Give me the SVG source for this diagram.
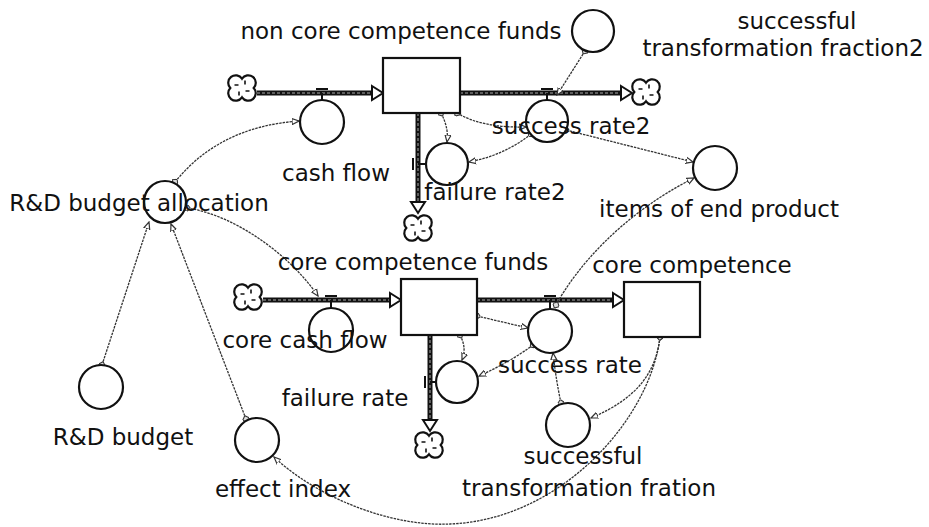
<svg xmlns="http://www.w3.org/2000/svg" xmlns:xlink="http://www.w3.org/1999/xlink" width="929" height="527" viewBox="0 0 929 527">
<style>
  .lbl { font-family: "DejaVu Sans", "Liberation Sans", sans-serif; font-size: 23px; fill: #111; text-anchor: middle; }
  .aux { fill: #fff; stroke: #111; stroke-width: 2.2; }
  .stock { fill: #fff; stroke: #111; stroke-width: 2.2; }
  .pipe { stroke: #111; stroke-width: 5; fill: none; }
  .pipein { stroke: #aaa; stroke-width: 1; fill: none; stroke-dasharray: 3 2; }
  .head { fill: #fff; stroke: #111; stroke-width: 2; stroke-linejoin: miter; }
  .valve { stroke: #111; stroke-width: 2; fill: none; }
  .conn { fill: none; stroke: #333; stroke-width: 1.3; stroke-dasharray: 2.5 1; marker-start: url(#orig); marker-end: url(#arr); }
  .cloud { fill: #fff; stroke: #111; stroke-width: 2.2; }
</style>
<defs>
  <marker id="arr" viewBox="0 0 8 8" refX="7" refY="4" markerWidth="8" markerHeight="8" orient="auto" markerUnits="userSpaceOnUse">
    <path d="M0,1 L7,4 L0,7 Z" fill="#fff" stroke="#333" stroke-width="1.2"/>
  </marker>
  <marker id="orig" viewBox="0 0 8 8" refX="4" refY="4" markerWidth="7" markerHeight="7" orient="auto" markerUnits="userSpaceOnUse">
    <path d="M0,4 L4,0 L8,4 L4,8 Z" fill="#ddd" stroke="#333" stroke-width="1.2"/>
  </marker>
  <g id="cloudShape">
    <path class="cloud" d="M0,-9.3 A7.5 7.5 0 1 1 11.7,0 A7.5 7.5 0 1 1 0,9.3 A7.5 7.5 0 1 1 -11.7,0 A7.5 7.5 0 1 1 0,-9.3 Z"/>
    <path d="M-7.5,-3 l4,0 M3,-7.5 l0,4 M7.5,3 l-4,0 M-3,7.5 l0,-4" stroke="#111" stroke-width="1.6" fill="none"/>
  </g>
</defs>
<rect width="929" height="527" fill="#fff"/>

<g id="connectors">
  <g id="flow-cash-flow">
    <line class="pipe" x1="257" y1="93" x2="373" y2="93"/>
    <line class="pipein" x1="257" y1="93" x2="373" y2="93"/>
    <polygon class="head" points="372,86 383,93 372,100"/>
  </g>
  <g id="flow-success-rate2">
    <line class="pipe" x1="460" y1="93" x2="622" y2="93"/>
    <line class="pipein" x1="460" y1="93" x2="622" y2="93"/>
    <polygon class="head" points="621,86 632,93 621,100"/>
  </g>
  <g id="flow-failure-rate2">
    <line class="pipe" x1="418" y1="113" x2="418" y2="203"/>
    <line class="pipein" x1="418" y1="113" x2="418" y2="203"/>
    <polygon class="head" points="411,202 418,213 425,202"/>
  </g>
  <g id="flow-core-cash-flow">
    <line class="pipe" x1="263" y1="300" x2="391" y2="300"/>
    <line class="pipein" x1="263" y1="300" x2="391" y2="300"/>
    <polygon class="head" points="390,293 401,300 390,307"/>
  </g>
  <g id="flow-success-rate">
    <line class="pipe" x1="477" y1="300" x2="614" y2="300"/>
    <line class="pipein" x1="477" y1="300" x2="614" y2="300"/>
    <polygon class="head" points="613,293 624,300 613,307"/>
  </g>
  <g id="flow-failure-rate">
    <line class="pipe" x1="430" y1="335" x2="430" y2="421"/>
    <line class="pipein" x1="430" y1="335" x2="430" y2="421"/>
    <polygon class="head" points="423,420 430,431 437,420"/>
  </g>
  <path class="valve" d="M322,93 L322,100 M316,89 L328,89"/>
  <path class="valve" d="M547,93 L547,100 M541,89 L553,89"/>
  <path class="valve" d="M418,164 L426,164 M413,158 L413,170"/>
  <path class="valve" d="M331,300 L331,308 M325,296 L337,296"/>
  <path class="valve" d="M550,300 L550,309 M544,296 L556,296"/>
  <path class="valve" d="M430,382 L436,382 M425,376 L425,388"/>
  <path class="conn" d="M175,182 C205,145 245,125 299,121"/>
  <path class="conn" d="M187,208 C235,215 290,255 318,296"/>
  <path class="conn" d="M102,365 L149,222"/>
  <path class="conn" d="M246,419 L171,224"/>
  <path class="conn" d="M441,113 Q449,128 447,142"/>
  <path class="conn" d="M457,113 Q482,128 526,127"/>
  <path class="conn" d="M531,134 Q505,155 469,162"/>
  <path class="conn" d="M585,51 L557,95"/>
  <path class="conn" d="M566,130 L693,162"/>
  <path class="conn" d="M477,316 L528,328"/>
  <path class="conn" d="M460,335 Q467,348 462,360"/>
  <path class="conn" d="M533,345 Q510,362 479,376"/>
  <path class="conn" d="M561,403 Q556,380 553,353"/>
  <path class="conn" d="M660,337 C656,372 638,398 591,418"/>
  <path class="conn" d="M660,337 C650,420 560,520 450,524 C395,527 320,500 274,457"/>
  <path class="conn" d="M556,305 C575,270 620,215 694,178"/>
</g>

<g id="cloud-1"><use href="#cloudShape" x="242" y="88"/></g>
<g id="cloud-2"><use href="#cloudShape" x="646" y="92"/></g>
<g id="cloud-3"><use href="#cloudShape" x="418" y="228"/></g>
<g id="cloud-4"><use href="#cloudShape" x="248" y="297"/></g>
<g id="cloud-5"><use href="#cloudShape" x="429" y="445"/></g>

<g id="non-core-competence-funds">
  <rect class="stock" x="383" y="58" width="77" height="55"/>
  <text class="lbl" x="401" y="39">non core competence funds</text>
</g>
<g id="successful-transformation-fraction2">
  <circle class="aux" cx="593" cy="31" r="21"/>
  <text class="lbl" x="797" y="29">successful</text>
  <text class="lbl" x="783" y="56">transformation fraction2</text>
</g>
<g id="cash-flow">
  <circle class="aux" cx="322" cy="122" r="22"/>
  <text class="lbl" x="336" y="181">cash flow</text>
</g>
<g id="success-rate2">
  <circle class="aux" cx="547" cy="121" r="21"/>
  <text class="lbl" x="571" y="134">success rate2</text>
</g>
<g id="failure-rate2">
  <circle class="aux" cx="447" cy="164" r="21"/>
  <text class="lbl" x="495" y="200">failure rate2</text>
</g>
<g id="items-of-end-product">
  <circle class="aux" cx="715" cy="168" r="22"/>
  <text class="lbl" x="719" y="217">items of end product</text>
</g>
<g id="rd-budget-allocation">
  <circle class="aux" cx="165" cy="202" r="21"/>
  <text class="lbl" x="139" y="211">R&amp;D budget allocation</text>
</g>
<g id="core-competence-funds">
  <rect class="stock" x="401" y="279" width="76" height="56"/>
  <text class="lbl" x="413" y="270">core competence funds</text>
</g>
<g id="core-competence">
  <rect class="stock" x="624" y="282" width="76" height="55"/>
  <text class="lbl" x="692" y="273">core competence</text>
</g>
<g id="core-cash-flow">
  <circle class="aux" cx="331" cy="330" r="22"/>
  <text class="lbl" x="305" y="348">core cash flow</text>
</g>
<g id="success-rate">
  <circle class="aux" cx="550" cy="331" r="22"/>
  <text class="lbl" x="570" y="373">success rate</text>
</g>
<g id="failure-rate">
  <circle class="aux" cx="457" cy="382" r="21"/>
  <text class="lbl" x="345" y="406">failure rate</text>
</g>
<g id="successful-transformation-fration">
  <circle class="aux" cx="568" cy="425" r="22"/>
  <text class="lbl" x="583" y="464">successful</text>
  <text class="lbl" x="589" y="496">transformation fration</text>
</g>
<g id="rd-budget">
  <circle class="aux" cx="101" cy="387" r="22"/>
  <text class="lbl" x="123" y="445">R&amp;D budget</text>
</g>
<g id="effect-index">
  <circle class="aux" cx="257" cy="440" r="22"/>
  <text class="lbl" x="283" y="497">effect index</text>
</g>
</svg>
